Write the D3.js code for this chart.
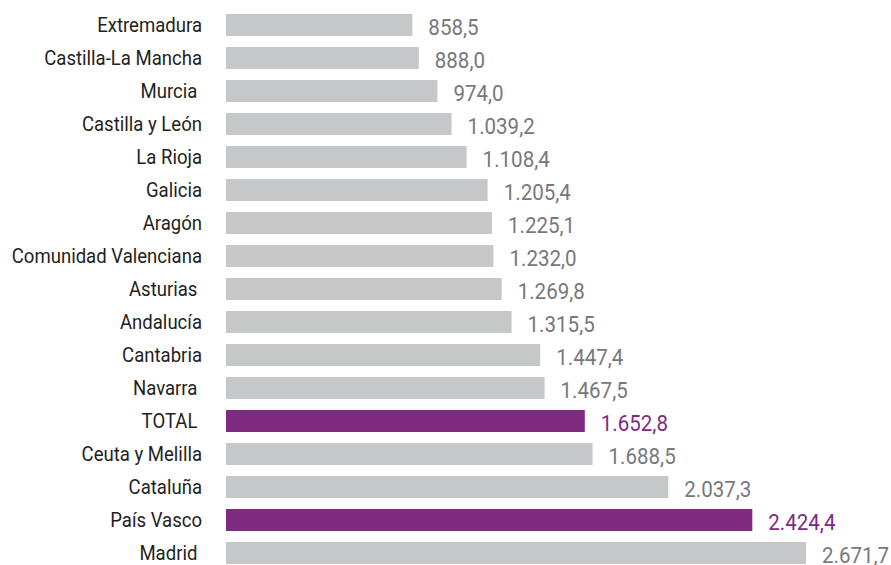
<!DOCTYPE html>
<html><head><meta charset="utf-8">
<script src="https://cdn.jsdelivr.net/npm/d3@7"></script>
<style>
html,body{margin:0;padding:0;background:#fff;}
text{white-space:pre;}
</style></head>
<body>
<svg id="chart" width="891" height="565"></svg>
<script>
const categories = ["Extremadura","Castilla-La Mancha","Murcia ","Castilla y León","La Rioja","Galicia","Aragón","Comunidad Valenciana","Asturias ","Andalucía","Cantabria","Navarra ","TOTAL ","Ceuta y Melilla","Cataluña","País Vasco","Madrid "];
const values = [858.5,888.0,974.0,1039.2,1108.4,1205.4,1225.1,1232.0,1269.8,1315.5,1447.4,1467.5,1652.8,1688.5,2037.3,2424.4,2671.7];
const highlighted = ["TOTAL ","País Vasco"];

const svg = d3.select("#chart");
const fmt = d3.formatLocale({decimal:",", thousands:".", grouping:[3], currency:["","€"]}).format(",.1f");
const x = d3.scaleLinear().domain([0, d3.max(values)]).range([226, 806]);
const y = d3.scaleBand().domain(categories).range([8.5, 569.5]).paddingInner(1/3).paddingOuter(1/6);

const data = categories.map((c,i)=>({c, v: values[i], h: highlighted.includes(c)}));
const purple = "#7e2b80", gray = "#c6c7c9";
const font = "Roboto, 'Noto Sans', sans-serif";
const sxCat = 0.905, sxVal = 0.955;

svg.selectAll("rect.bar").data(data).join("rect")
  .attr("class","bar")
  .attr("x", x(0))
  .attr("y", d=>y(d.c))
  .attr("width", d=>x(d.v)-x(0))
  .attr("height", y.bandwidth())
  .attr("fill", d=>d.h?purple:gray);

svg.selectAll("text.cat").data(data).join("text")
  .attr("class","cat")
  .attr("transform", d=>`translate(202,${y(d.c)+y.bandwidth()/2}) scale(${sxCat},1)`)
  .attr("dy","0.36em")
  .attr("text-anchor","end")
  .attr("font-family", font)
  .attr("font-size", 20.5)
  .attr("fill","#231f20")
  .text(d=>d.c);

svg.selectAll("text.val").data(data).join("text")
  .attr("class","val")
  .attr("transform", d=>`translate(${x(d.v)+16},${y(d.c)+y.bandwidth()/2+2}) scale(${sxVal},1)`)
  .attr("dy","0.36em")
  .attr("font-family", font)
  .attr("font-size", 21.5)
  .attr("fill", d=>d.h?purple:"#77787b")
  .text(d=>fmt(d.v));
</script>
</body></html>
